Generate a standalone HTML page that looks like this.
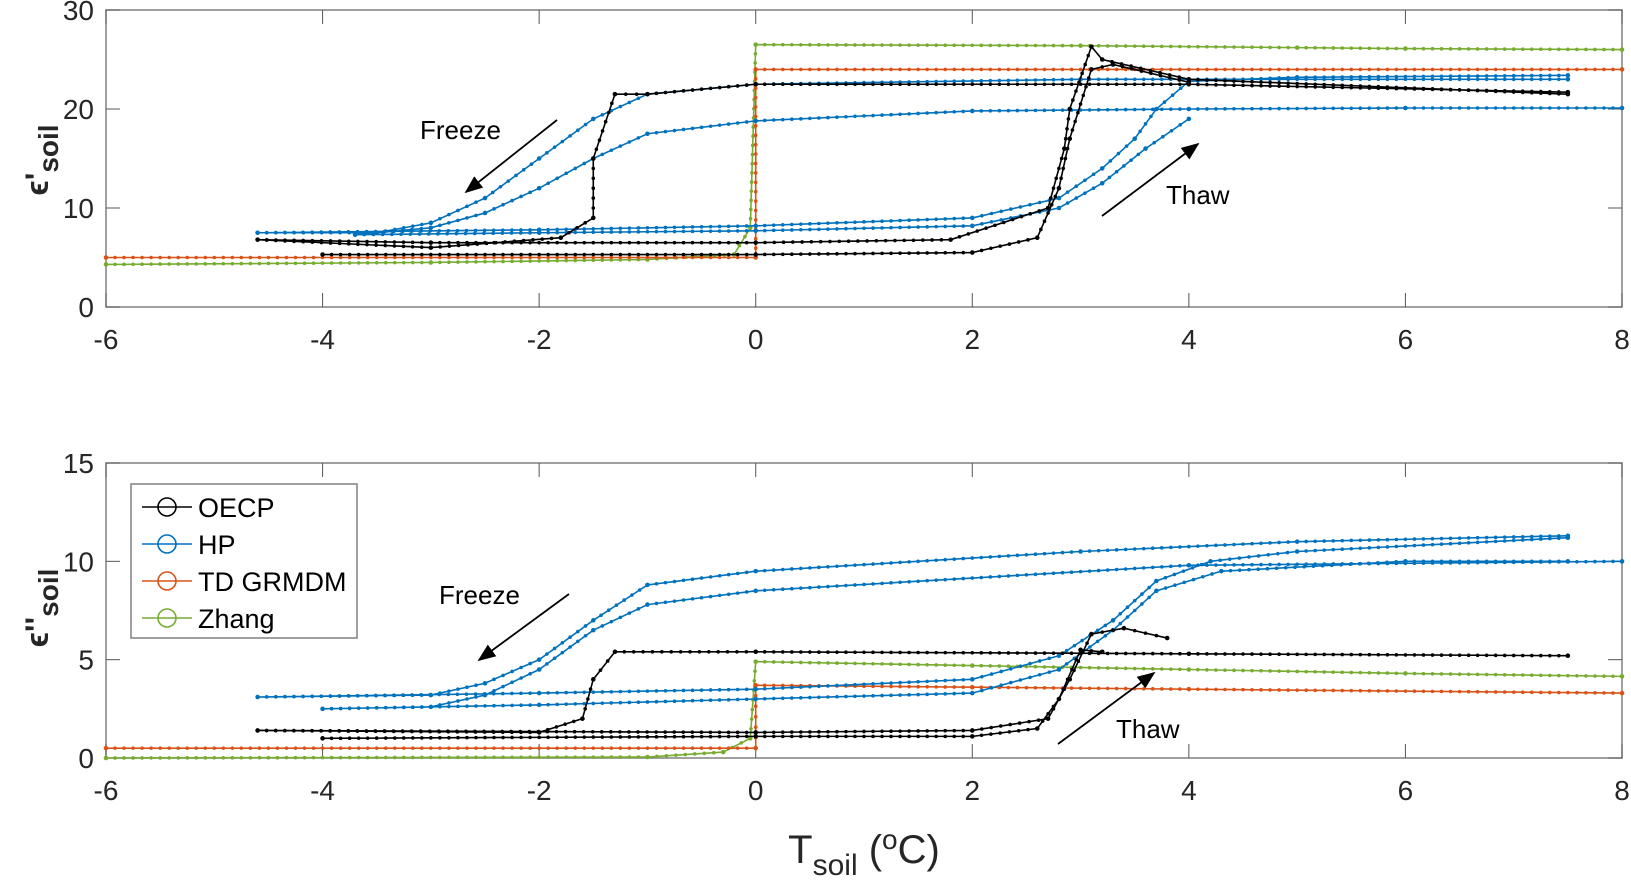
<!DOCTYPE html>
<html><head><meta charset="utf-8"><style>
html,body{margin:0;padding:0;background:#fff;}
svg{display:block;font-family:"Liberation Sans",sans-serif;}
</style></head><body>
<svg id="chart" width="1631" height="886" viewBox="0 0 1631 886"></svg>
<script>
// ---- data (top panel: epsilon') ----
const xTicks = [-6,-4,-2,0,2,4,6,8];
const yTicksTop = [0,10,20,30];
const yTicksBot = [0,5,10,15];
const seriesNames = ["OECP","HP","TD GRMDM","Zhang"];
const seriesColors = ["#000000","#0072BD","#D95319","#77AC30"];

const topZhang = [[-6,4.3],[-3,4.5],[-1,4.8],[-0.2,5.3],[-0.05,8],[0,26.5],[3,26.4],[5,26.2],[6,26.1],[8,26]];
const topTD = [[-6,5],[0,5],[0,24],[8,24]];
const topHP1 = [[7.5,23],[3,23],[0,22.5],[-1,21.5],[-1.5,19],[-2,15],[-2.5,11],[-3,8.5],[-3.5,7.5],[-4.6,7.5],[-2,7.8],[0,8.2],[2,9],[2.8,11],[3.2,14],[3.5,17],[3.7,20],[4,22.8],[5,23.2],[7.5,23.4]];
const topHP2 = [[8,20.1],[6,20.1],[4,20],[2,19.8],[0,18.8],[-1,17.5],[-1.5,15],[-2,12],[-2.5,9.5],[-3,8],[-3.7,7.3],[-2,7.5],[0,7.7],[2,8.2],[2.8,10],[3.2,12.5],[3.6,16],[4,19]];
const topOECP1 = [[7.5,21.7],[4,22.5],[0,22.5],[-1,21.5],[-1.3,21.5],[-1.5,15],[-1.5,9],[-1.8,7],[-3,6],[-4.6,6.8],[-3,6.5],[0,6.5],[1.8,6.8],[2.7,10],[2.85,16],[2.9,20],[3.1,26.3],[3.2,25],[4,23],[7.5,21.5]];
const topOECP2 = [[-4,5.3],[0,5.3],[2,5.5],[2.6,7],[2.8,12],[2.9,17],[3.1,24],[3.3,24.5],[4,22.7]];

// ---- data (bottom panel: epsilon'') ----
const botZhang = [[-6,0],[-1,0.05],[-0.3,0.3],[-0.05,1],[0,4.9],[2,4.7],[4,4.5],[6,4.3],[8,4.15]];
const botTD = [[-6,0.5],[0,0.5],[0,3.7],[2,3.6],[4,3.5],[8,3.3]];
const botHP1 = [[7.5,11.3],[5,11],[3,10.5],[0,9.5],[-1,8.8],[-1.5,7],[-2,5],[-2.5,3.8],[-3,3.2],[-4.6,3.1],[-2,3.3],[0,3.5],[2,4],[2.8,5.2],[3.3,7],[3.7,9],[4.2,10],[5,10.5],[7.5,11.2]];
const botHP2 = [[8,10],[4,9.8],[0,8.5],[-1,7.8],[-1.5,6.5],[-2,4.5],[-2.5,3.2],[-3,2.6],[-4,2.5],[-2,2.7],[0,3],[2,3.3],[2.8,4.5],[3.3,6.5],[3.7,8.5],[4.3,9.5],[6,10],[7.5,10]];
const botOECP1 = [[7.5,5.2],[4,5.3],[0,5.4],[-1.3,5.4],[-1.5,4],[-1.6,2],[-2,1.3],[-4.6,1.4],[0,1.3],[2,1.4],[2.7,2],[2.9,4],[3.1,6.3],[3.4,6.6],[3.8,6.1]];
const botOECP2 = [[-4,1],[0,1.1],[2,1.1],[2.6,1.5],[2.8,3],[3,5.5],[3.2,5.4]];

const NS="http://www.w3.org/2000/svg";
const svg=document.getElementById('chart');
function mk(tag,attrs,parent){const e=document.createElementNS(NS,tag);for(const k in attrs)e.setAttribute(k,attrs[k]);(parent||svg).appendChild(e);return e;}
const X0=106,X1=1622;
function xs(v){return X0+(v+6)/14*(X1-X0);}

function panel(name,top,bottom,ymax,yTicks,series){
  const g=mk('g',{});
  
  
  const ys=v=>bottom-v/ymax*(bottom-top);
  const frame=mk('rect',{x:X0,y:top,width:X1-X0,height:bottom-top,fill:'#fff',stroke:'#808080','stroke-width':1.5},g);
  
  
  xTicks.forEach(t=>{
    const x=xs(t);
    mk('line',{x1:x,x2:x,y1:bottom,y2:bottom-14,stroke:'#555'},g);
    mk('line',{x1:x,x2:x,y1:top,y2:top+14,stroke:'#555'},g);
    const tx=mk('text',{x:x,y:bottom+42,'font-size':28,'text-anchor':'middle',fill:'#262626'},g);
    tx.textContent=t;
    
    
  });
  yTicks.forEach(t=>{
    const y=ys(t);
    mk('line',{x1:X0,x2:X0+14,y1:y,y2:y,stroke:'#555'},g);
    mk('line',{x1:X1,x2:X1-14,y1:y,y2:y,stroke:'#555'},g);
    const tx=mk('text',{x:X0-12,y:y+10,'font-size':28,'text-anchor':'end',fill:'#262626'},g);
    tx.textContent=t;
    
    
  });
  series.forEach(([pts,color,sname])=>{
    const sg=mk('g',{},g);
    
    
    const P=pts.map(p=>[xs(p[0]),ys(p[1])]);
    mk('polyline',{points:P.map(p=>p.join(',')).join(' '),fill:'none',stroke:color,'stroke-width':1.6},sg);
    // markers: at data points and dense along segments (MATLAB-like marker density)
    for(let i=0;i<P.length;i++){
      mk('circle',{cx:P[i][0],cy:P[i][1],r:2.3,fill:color},sg);
      if(i<P.length-1){
        const dx=P[i+1][0]-P[i][0],dy=P[i+1][1]-P[i][1],L=Math.hypot(dx,dy);
        const n=Math.floor(L/9);
        for(let k=1;k<n;k++){
          mk('circle',{cx:P[i][0]+dx*k/n,cy:P[i][1]+dy*k/n,r:1.8,fill:color},sg);
        }
      }
    }
  });
}
panel('top-panel',10,307,30,yTicksTop,[
  [topZhang,seriesColors[3],'zhang-series'],[topTD,seriesColors[2],'td-grmdm-series'],
  [topHP1,seriesColors[1],'hp-series-1'],[topHP2,seriesColors[1],'hp-series-2'],
  [topOECP1,seriesColors[0],'oecp-series-1'],[topOECP2,seriesColors[0],'oecp-series-2']]);
panel('bottom-panel',463,758,15,yTicksBot,[
  [botZhang,seriesColors[3],'zhang-series'],[botTD,seriesColors[2],'td-grmdm-series'],
  [botHP1,seriesColors[1],'hp-series-1'],[botHP2,seriesColors[1],'hp-series-2'],
  [botOECP1,seriesColors[0],'oecp-series-1'],[botOECP2,seriesColors[0],'oecp-series-2']]);

// legend
const lg=mk('g',{});


mk('rect',{x:131,y:484,width:226,height:154,fill:'#fff',stroke:'#808080','stroke-width':1.5},lg);
seriesNames.forEach((n,i)=>{
  const y=507+i*37;
  const e=mk('g',{},lg);
  
  
  mk('line',{x1:142,x2:192,y1:y,y2:y,stroke:seriesColors[i],'stroke-width':1.6},e);
  mk('circle',{cx:167,cy:y,r:9,fill:'none',stroke:seriesColors[i],'stroke-width':1.6},e);
  const t=mk('text',{x:198,y:y+10,'font-size':27,fill:'#000'},e);
  t.textContent=n;
});

// annotations
mk('defs',{}).innerHTML='<marker id="ah" markerWidth="10" markerHeight="8" refX="9" refY="4" orient="auto"><path d="M0,0 L10,4 L0,8 z" fill="#000"/></marker>';
function ann(txt,tx,ty,x1,y1,x2,y2,nm){
  const t=mk('text',{x:tx,y:ty,'font-size':26,fill:'#000'});
  t.textContent=txt;
  
  
  const l=mk('line',{x1:x1,y1:y1,x2:x2,y2:y2,stroke:'#000','stroke-width':1.8,'marker-end':'url(#ah)'});
  
  
}
ann('Freeze',420,139,557,120,466,192,'freeze-top');
ann('Thaw',1166,204,1102,216,1198,144,'thaw-top');
ann('Freeze',439,604,569,594,479,660,'freeze-bottom');
ann('Thaw',1116,738,1058,744,1154,673,'thaw-bottom');

// axis titles
const yt1=mk('text',{transform:'translate(48,160) rotate(-90)','font-size':32,'font-weight':'bold','text-anchor':'middle',fill:'#262626'});
yt1.innerHTML="ϵ'<tspan dy='10' font-size='28'>soil</tspan>";


const yt2=mk('text',{transform:'translate(48,608) rotate(-90)','font-size':32,'font-weight':'bold','text-anchor':'middle',fill:'#262626'});
yt2.innerHTML="ϵ''<tspan dy='10' font-size='28'>soil</tspan>";


const xt=mk('text',{x:864,y:863,'font-size':40,'text-anchor':'middle',fill:'#262626'});
xt.innerHTML="T<tspan dy='12' font-size='30'>soil</tspan><tspan dy='-12'> (</tspan><tspan dy='-14' font-size='28'>o</tspan><tspan dy='14'>C)</tspan>";


</script>
</body></html>
